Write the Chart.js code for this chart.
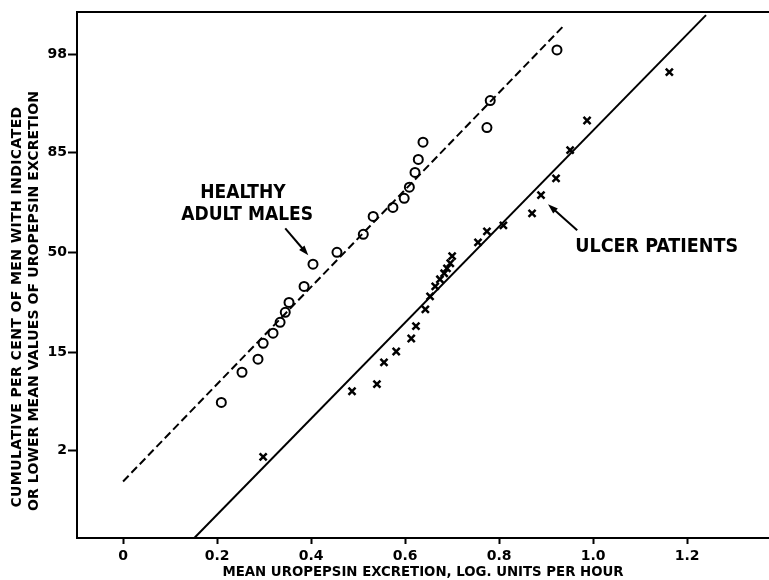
<!DOCTYPE html>
<html>
<head>
<meta charset="utf-8">
<script src="https://cdn.jsdelivr.net/npm/chart.js@4"></script>
<style>
  body { margin: 0; background: #fff; }
</style>
</head>
<body>
<canvas id="chart" width="769" height="580"></canvas>
<script>
// Uropepsin excretion - normal probability plot

// healthy adult males (circles): log units per hour, cumulative per cent
const healthyX = [0.209, 0.253, 0.287, 0.298, 0.319, 0.334, 0.345, 0.353, 0.385, 0.404, 0.455,
                  0.511, 0.532, 0.574, 0.598, 0.609, 0.621, 0.628, 0.638, 0.774, 0.781, 0.923];
const healthyPct = [6.0, 10.7, 13.4, 17.3, 20.1, 23.4, 26.7, 30.2, 36.2, 45.1, 50.0,
                    57.4, 64.5, 67.9, 71.2, 75.0, 79.6, 83.2, 87.3, 90.2, 94.2, 98.2];

// ulcer patients (x marks)
const ulcerX = [0.298, 0.487, 0.540, 0.555, 0.581, 0.613, 0.623, 0.643, 0.653, 0.664, 0.674, 0.683,
                0.689, 0.696, 0.700, 0.755, 0.774, 0.809, 0.870, 0.889, 0.921, 0.951, 0.987, 1.162];
const ulcerPct = [1.7, 7.5, 8.6, 12.7, 15.2, 18.6, 22.2, 27.7, 32.4, 36.2, 39.0, 41.4,
                  43.4, 45.5, 48.4, 54.1, 58.6, 61.0, 65.7, 72.3, 77.8, 85.5, 91.4, 96.9];

// fitted lines (end points)
const healthyLineX = [0, 0.94];
const healthyLinePct = [0.88, 99.09];
const ulcerLineX = [0.152, 1.24];
const ulcerLinePct = [0.155, 99.30];

// axis ticks
const yTickPct = [2, 15, 50, 85, 98];
const xTicks = [0, 0.2, 0.4, 0.6, 0.8, 1.0, 1.2];
const xTickLabels = ['0', '0.2', '0.4', '0.6', '0.8', '1.0', '1.2'];

// inverse normal CDF (Acklam) - probability paper
function probit(p) {
    const a = [-3.969683028665376e+01, 2.209460984245205e+02, -2.759285104469687e+02, 1.383577518672690e+02, -3.066479806614716e+01, 2.506628277459239e+00];
    const b = [-5.447609879822406e+01, 1.615858368580409e+02, -1.556989798598866e+02, 6.680131188771972e+01, -1.328068155288572e+01];
    const c = [-7.784894002430293e-03, -3.223964580411365e-01, -2.400758277161838e+00, -2.549732539343734e+00, 4.374664141464968e+00, 2.938163982698783e+00];
    const d = [7.784695709041462e-03, 3.224671290700398e-01, 2.445134137142996e+00, 3.754408661907416e+00];
    const pl = 0.02425;
    let q, r;
    if (p < pl) {
        q = Math.sqrt(-2 * Math.log(p));
        return (((((c[0]*q+c[1])*q+c[2])*q+c[3])*q+c[4])*q+c[5]) / ((((d[0]*q+d[1])*q+d[2])*q+d[3])*q+1);
    }
    if (p > 1 - pl) {
        q = Math.sqrt(-2 * Math.log(1 - p));
        return -(((((c[0]*q+c[1])*q+c[2])*q+c[3])*q+c[4])*q+c[5]) / ((((d[0]*q+d[1])*q+d[2])*q+d[3])*q+1);
    }
    q = p - 0.5;
    r = q * q;
    return (((((a[0]*r+a[1])*r+a[2])*r+a[3])*r+a[4])*r+a[5])*q / (((((b[0]*r+b[1])*r+b[2])*r+b[3])*r+b[4])*r+1);
}

function toPoints(xs, pcts) {
    return xs.map((x, i) => ({ x: x, y: probit(pcts[i] / 100) }));
}

const COND = "'DejaVu Sans Condensed', 'DejaVu Sans', sans-serif";
const PLAIN = "'DejaVu Sans', sans-serif";

function arrow(ctx, x1, y1, x2, y2) {
    const ang = Math.atan2(y2 - y1, x2 - x1);
    ctx.beginPath();
    ctx.moveTo(x1, y1);
    ctx.lineTo(x2 - 6 * Math.cos(ang), y2 - 6 * Math.sin(ang));
    ctx.stroke();
    ctx.beginPath();
    ctx.moveTo(x2, y2);
    ctx.lineTo(x2 - 10 * Math.cos(ang) + 3.5 * Math.sin(ang), y2 - 10 * Math.sin(ang) - 3.5 * Math.cos(ang));
    ctx.lineTo(x2 - 10 * Math.cos(ang) - 3.5 * Math.sin(ang), y2 - 10 * Math.sin(ang) + 3.5 * Math.cos(ang));
    ctx.closePath();
    ctx.fill();
}

// y title + labels with arrows
const notes = {
    id: 'notes',
    afterDraw(chart) {
        const ctx = chart.ctx;
        const xs = chart.scales.x, ys = chart.scales.y;
        const px = v => xs.getPixelForValue(v);
        const py = z => ys.getPixelForValue(z);
        ctx.save();
        ctx.fillStyle = '#000';
        ctx.strokeStyle = '#000';

        // y axis title, two lines
        ctx.save();
        ctx.rotate(-Math.PI / 2);
        ctx.font = 'bold 14px ' + PLAIN;
        ctx.textAlign = 'center';
        ctx.textBaseline = 'middle';
        ctx.letterSpacing = '0.4px';
        ctx.fillText('CUMULATIVE PER CENT OF MEN WITH INDICATED', -307, 17);
        ctx.letterSpacing = '0.1px';
        ctx.fillText('OR LOWER MEAN VALUES OF UROPEPSIN EXCRETION', -301, 34);
        ctx.restore();

        ctx.font = 'bold 19px ' + COND;
        ctx.textAlign = 'center';
        ctx.textBaseline = 'middle';
        ctx.fillText('HEALTHY', px(0.255), py(0.617));
        ctx.fillText('ADULT MALES', px(0.264), py(0.389));
        ctx.textAlign = 'left';
        ctx.font = 'bold 19.5px ' + COND;
        ctx.fillText('ULCER PATIENTS', px(0.962), py(0.052));

        ctx.lineWidth = 2;
        arrow(ctx, px(0.345), py(0.249), px(0.394), py(-0.031));
        arrow(ctx, px(0.966), py(0.228), px(0.904), py(0.497));
        ctx.restore();
    }
};

function noSidePad(s) {
    s.paddingLeft = 0;
    s.paddingRight = 0;
}

new Chart(document.getElementById('chart'), {
    type: 'scatter',
    data: {
        datasets: [
            {
                label: 'Healthy adult males',
                data: toPoints(healthyX, healthyPct),
                pointStyle: 'circle',
                pointRadius: 4.5,
                borderColor: '#000',
                backgroundColor: 'transparent',
                borderWidth: 2
            },
            {
                label: 'Ulcer patients',
                data: toPoints(ulcerX, ulcerPct),
                pointStyle: 'crossRot',
                pointRadius: 5,
                borderColor: '#000',
                borderWidth: 2.5
            },
            {
                label: 'Healthy fit',
                data: toPoints(healthyLineX, healthyLinePct),
                showLine: true,
                pointRadius: 0,
                borderColor: '#000',
                borderWidth: 2,
                borderDash: [8, 4]
            },
            {
                label: 'Ulcer fit',
                data: toPoints(ulcerLineX, ulcerLinePct),
                showLine: true,
                pointRadius: 0,
                borderColor: '#000',
                borderWidth: 2
            }
        ]
    },
    options: {
        responsive: false,
        animation: false,
        layout: { padding: 0, autoPadding: false },
        plugins: {
            legend: { display: false },
            tooltip: { enabled: false }
        },
        scales: {
            x: {
                type: 'linear',
                position: 'bottom',
                min: -0.098,
                max: 1.374,
                afterBuildTicks: s => { s.ticks = xTicks.map(v => ({ value: v })); },
                afterFit: s => { s.height = 42; noSidePad(s); },
                ticks: {
                    callback: (v, i) => xTickLabels[i],
                    color: '#000',
                    font: { family: PLAIN, size: 14, weight: 'bold' },
                    padding: 4,
                    maxRotation: 0,
                    autoSkip: false
                },
                grid: { drawOnChartArea: false, tickLength: 6, tickWidth: 2, tickColor: '#000' },
                border: { color: '#000', width: 2 },
                title: {
                    display: true,
                    text: 'MEAN UROPEPSIN EXCRETION, LOG. UNITS PER HOUR',
                    color: '#000',
                    font: { family: COND, size: 14.8, weight: 'bold', lineHeight: 1 },
                    padding: 0
                }
            },
            top: {
                type: 'linear',
                position: 'top',
                min: -0.098,
                max: 1.374,
                afterFit: s => { s.height = 12; noSidePad(s); },
                ticks: { display: false },
                grid: { drawOnChartArea: false, drawTicks: false },
                border: { color: '#000', width: 2 }
            },
            y: {
                type: 'linear',
                min: -2.96,
                max: 2.49,
                afterBuildTicks: s => { s.ticks = yTickPct.map(p => ({ value: probit(p / 100) })); },
                afterFit: s => { s.width = 77; },
                ticks: {
                    callback: (v, i) => yTickPct[i],
                    color: '#000',
                    font: { family: PLAIN, size: 14, weight: 'bold' },
                    padding: 1
                },
                grid: { drawOnChartArea: false, tickLength: 9, tickWidth: 2, tickColor: '#000' },
                border: { color: '#000', width: 2 }
            }
        }
    },
    plugins: [notes]
});
</script>
</body>
</html>
